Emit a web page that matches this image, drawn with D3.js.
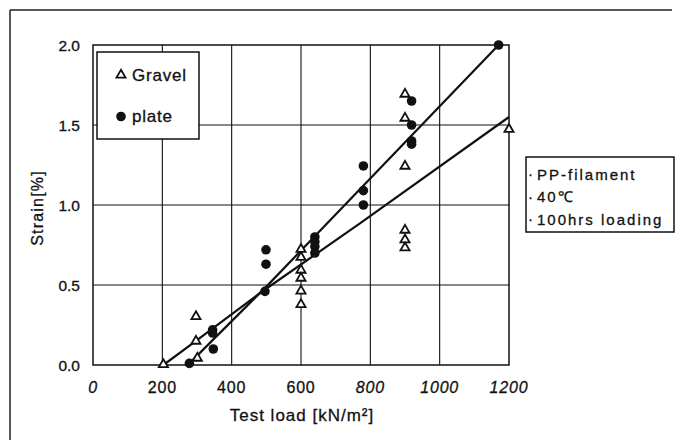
<!DOCTYPE html>
<html>
<head>
<meta charset="utf-8">
<script src="https://cdn.jsdelivr.net/npm/d3@7"></script>
<style>
  body { margin: 0; background: #fff; }
  text { font-family: "Liberation Sans", Arial, sans-serif; fill: #111; stroke: #111; stroke-width: 0.3; }
</style>
</head>
<body>
<svg id="chart"></svg>
<script>
// data
var gravelLoad   = [203, 297, 297, 301, 600, 600, 600, 600, 600, 600, 900, 900, 900, 900, 900, 900, 1200];
var gravelStrain = [0, 0.30, 0.146, 0.04, 0.72, 0.67, 0.59, 0.54, 0.46, 0.375, 1.69, 1.54, 1.24, 0.84, 0.78, 0.73, 1.47];

var plateLoad   = [278, 345, 345, 347, 499, 499, 496, 640, 640, 640, 640, 780, 780, 780, 919, 919, 919, 919, 1170];
var plateStrain = [0.01, 0.22, 0.20, 0.10, 0.72, 0.63, 0.46, 0.80, 0.77, 0.74, 0.70, 1.244, 1.09, 1.0, 1.65, 1.50, 1.40, 1.38, 2.0];

// fitted lines
var gravelFitLoad   = [203, 300, 482, 770, 1200];
var gravelFitStrain = [0, 0.155, 0.45, 0.885, 1.55];
var plateFitLoad   = [278, 500, 1170];
var plateFitStrain = [0.01, 0.49, 2.0];

var xTicks = [0, 200, 400, 600, 800, 1000, 1200];
var xItalic = [true, false, false, false, true, true, true];
var yTicks = [0, 0.5, 1.0, 1.5, 2.0];
var noteLines = ["PP-filament", "40\u2103", "100hrs loading"];

var width = 683, height = 440;

var svg = d3.select("#chart")
    .attr("width", width)
    .attr("height", height);

// outer frame of the figure
svg.append("line").attr("x1", 10).attr("y1", 10).attr("x2", 672).attr("y2", 10)
   .attr("stroke", "#222").attr("stroke-width", 1.5);
svg.append("line").attr("x1", 10).attr("y1", 10).attr("x2", 10).attr("y2", 440)
   .attr("stroke", "#222").attr("stroke-width", 1.5);

// scales
var x = d3.scaleLinear().domain([0, 1200]).range([93, 509]);
var y = d3.scaleLinear().domain([0, 2.0]).range([365, 45]);

// grid
svg.selectAll(".vgrid")
    .data([200, 400, 600, 800, 1000])
    .enter().append("line")
    .attr("x1", function(d) { return x(d); })
    .attr("x2", function(d) { return x(d); })
    .attr("y1", y(0)).attr("y2", y(2))
    .attr("stroke", "#111").attr("stroke-width", 1.1);

svg.selectAll(".hgrid")
    .data([0.5, 1.0, 1.5])
    .enter().append("line")
    .attr("x1", x(0)).attr("x2", x(1200))
    .attr("y1", function(d) { return y(d); })
    .attr("y2", function(d) { return y(d); })
    .attr("stroke", "#111").attr("stroke-width", 1.1);

svg.append("rect")
    .attr("x", x(0)).attr("y", y(2))
    .attr("width", x(1200) - x(0)).attr("height", y(0) - y(2))
    .attr("fill", "none").attr("stroke", "#111").attr("stroke-width", 1.5);

// tick labels
svg.selectAll(".xlab")
    .data(xTicks)
    .enter().append("text")
    .attr("x", function(d) { return x(d); })
    .attr("y", 393)
    .attr("text-anchor", "middle")
    .attr("font-size", 16)
    .attr("letter-spacing", 0.8)
    .attr("font-style", function(d, i) { return xItalic[i] ? "italic" : "normal"; })
    .text(function(d) { return d; });

svg.selectAll(".ylab")
    .data(yTicks)
    .enter().append("text")
    .attr("x", 80)
    .attr("y", function(d) { return y(d) + 5.5; })
    .attr("text-anchor", "end")
    .attr("font-size", 15.5)
    .text(function(d) { return d.toFixed(1); });

// axis titles
svg.append("text")
    .attr("x", 302).attr("y", 421)
    .attr("text-anchor", "middle")
    .attr("font-size", 17)
    .attr("letter-spacing", 1)
    .text("Test load [kN/m\u00B2]");

svg.append("text")
    .attr("transform", "translate(43,208) rotate(-90)")
    .attr("text-anchor", "middle")
    .attr("font-size", 16)
    .attr("letter-spacing", 1.2)
    .text("Strain[%]");

// fitted lines
var line = d3.line()
    .x(function(d) { return x(d[0]); })
    .y(function(d) { return y(d[1]); });

svg.append("path")
    .datum(d3.zip(gravelFitLoad, gravelFitStrain))
    .attr("d", line)
    .attr("fill", "none").attr("stroke", "#111").attr("stroke-width", 2.2);

svg.append("path")
    .datum(d3.zip(plateFitLoad, plateFitStrain))
    .attr("d", line)
    .attr("fill", "none").attr("stroke", "#111").attr("stroke-width", 2.2);

// points
var tri = d3.symbol().type(d3.symbolTriangle).size(36);

svg.selectAll(".gravel")
    .data(d3.zip(gravelLoad, gravelStrain))
    .enter().append("path")
    .attr("d", tri)
    .attr("transform", function(d) { return "translate(" + x(d[0]) + "," + (y(d[1]) - 0.5) + ")"; })
    .attr("fill", "#fff").attr("stroke", "#111").attr("stroke-width", 1.8);

svg.selectAll(".plate")
    .data(d3.zip(plateLoad, plateStrain))
    .enter().append("circle")
    .attr("cx", function(d) { return x(d[0]); })
    .attr("cy", function(d) { return y(d[1]); })
    .attr("r", 4.8)
    .attr("fill", "#111");

// legend for series
var lg = svg.append("g");
lg.append("rect")
    .attr("x", 97).attr("y", 52).attr("width", 102).attr("height", 87)
    .attr("fill", "#fff").attr("stroke", "#111").attr("stroke-width", 1.5);
lg.append("path")
    .attr("d", tri)
    .attr("transform", "translate(121,75)")
    .attr("fill", "#fff").attr("stroke", "#111").attr("stroke-width", 1.8);
lg.append("text")
    .attr("x", 132).attr("y", 81)
    .attr("font-size", 17).attr("letter-spacing", 0.8)
    .text("Gravel");
lg.append("circle")
    .attr("cx", 121).attr("cy", 116.5).attr("r", 4.8).attr("fill", "#111");
lg.append("text")
    .attr("x", 132).attr("y", 122)
    .attr("font-size", 17).attr("letter-spacing", 0.8)
    .text("plate");

// test condition note
var note = svg.append("g");
note.append("rect")
    .attr("x", 526).attr("y", 157).attr("width", 148).attr("height", 75)
    .attr("fill", "#fff").attr("stroke", "#111").attr("stroke-width", 1.5);
note.selectAll(".dot")
    .data(noteLines)
    .enter().append("text")
    .attr("x", 528)
    .attr("y", function(d, i) { return 179 + i * 22.5; })
    .attr("font-size", 15)
    .text("\u00B7");
note.selectAll(".note")
    .data(noteLines)
    .enter().append("text")
    .attr("x", 537)
    .attr("y", function(d, i) { return 179.5 + i * 22.5; })
    .attr("font-size", 15)
    .attr("letter-spacing", 2)
    .text(function(d) { return d; });
</script>
</body>
</html>
